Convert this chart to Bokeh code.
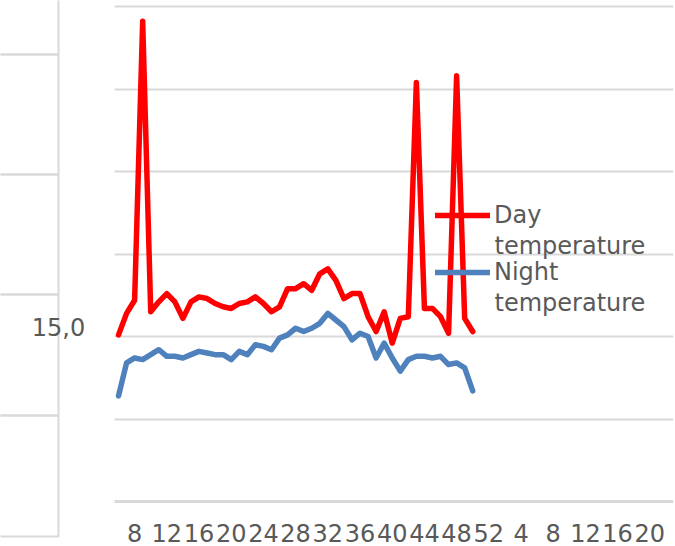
from bokeh.plotting import figure
from bokeh.models import (ColumnDataSource, Range1d, FixedTicker, Legend, LegendItem,
                          Label, BoxAnnotation)
from bokeh.embed import file_html
from bokeh.resources import INLINE

# ---- data ----
weeks = list(range(6, 51))
day_temp = [15.1, 16.4, 17.2, 34.1, 16.5, 17.1, 17.6, 17.1, 16.1, 17.1, 17.4,
            17.3, 17.0, 16.8, 16.7, 17.0, 17.1, 17.4, 17.0, 16.5, 16.8, 17.9, 17.9,
            18.2, 17.8, 18.8, 19.1, 18.4, 17.3, 17.6, 17.6, 16.2, 15.3, 16.5, 14.6,
            16.1, 16.2, 30.4, 16.7, 16.7, 16.2, 15.2, 30.8, 16.1, 15.3]
night_temp = [11.4, 13.4, 13.7, 13.6, 13.9, 14.2, 13.8, 13.8, 13.7, 13.9, 14.1,
              14.0, 13.9, 13.9, 13.6, 14.1, 13.9, 14.5, 14.4, 14.2, 14.9, 15.1, 15.5,
              15.3, 15.5, 15.8, 16.4, 16.0, 15.6, 14.8, 15.2, 15.0, 13.7, 14.6, 13.7,
              12.9, 13.6, 13.8, 13.8, 13.7, 13.8, 13.3, 13.4, 13.1, 11.7]
tick_positions = [8, 12, 16, 20, 24, 28, 32, 36, 40, 44, 48, 52, 56, 60, 64, 68, 72]
tick_labels = ["8", "12", "16", "20", "24", "28", "32", "36", "40", "44", "48", "52",
               "4", "8", "12", "16", "20"]
y_grid_values = [10, 15, 20, 25, 30, 35]
y_axis_min = 5
y_label_value = 15.0
series_names = ["Day", "Night"]

# ---- layout constants (pixels) ----
W, H = 675, 546
PL, PR, PB = 114, 673, 501          # main plot area edges (px)
X0, KX = 5.5, 8.05                  # data x at PL, px per week
KY = 16.5                           # px per degree


def dx(px):
    return X0 + (px - PL) / KX


def dy(py):
    return y_axis_min + (PB - py) / KY


TXT = "#595959"
GRID = "#D9D9D9"
FONT = "DejaVu Sans"

src = ColumnDataSource(dict(week=weeks, day=day_temp, night=night_temp))

p = figure(frame_width=PR, frame_height=H,
           x_range=Range1d(dx(0), dx(PR)), y_range=Range1d(dy(H), dy(0)),
           output_backend="svg", toolbar_location=None, tools="",
           min_border_left=0, min_border_right=W - PR,
           min_border_top=0, min_border_bottom=0)
p.styles = {"position": "absolute", "left": "0px", "top": "0px"}
p.outline_line_color = None
p.background_fill_color = "white"
p.border_fill_color = "white"
p.grid.visible = False

r_day = p.line("week", "day", source=src, line_color="#FF0000", line_width=5.5,
               line_join="round", line_cap="round")
r_night = p.line("week", "night", source=src, line_color="#4F81BD", line_width=5.5,
                 line_join="round", line_cap="round")

# value axis: its ticks span the plot area as horizontal gridlines
ya = p.yaxis[0]
ya.fixed_location = dx(PL)
ya.level = "underlay"
ya.ticker = FixedTicker(ticks=y_grid_values)
ya.axis_line_color = None
ya.major_tick_in = PR - PL
ya.major_tick_out = 0
ya.major_tick_line_color = GRID
ya.major_tick_line_width = 2
ya.minor_tick_line_color = None
ya.major_label_text_color = None

# category (week) axis
xa = p.xaxis[0]
xa.fixed_location = y_axis_min
xa.level = "underlay"
xa.bounds = (dx(PL), dx(PR))
xa.ticker = FixedTicker(ticks=tick_positions)
xa.major_label_overrides = {t: l for t, l in zip(tick_positions, tick_labels)}
xa.major_tick_line_color = None
xa.minor_tick_line_color = None
xa.axis_line_color = GRID
xa.axis_line_width = 3
xa.major_label_text_font = FONT
xa.major_label_text_font_size = "24px"
xa.major_label_text_color = TXT
xa.major_label_standoff = 16

# y value label
p.add_layout(Label(x=dx(58), y=dy(326), text=f"{y_label_value:.1f}".replace(".", ","),
                   text_align="center", text_baseline="middle",
                   text_font=FONT, text_font_size="24px", text_color=TXT))

# left panel fragment (decoration)
edges = [-5, 54, 174, 294, 415, 536]
for top, bot in zip(edges[:-1], edges[1:]):
    p.add_layout(BoxAnnotation(left=dx(-5), right=dx(58), top=dy(top), bottom=dy(bot),
                               fill_alpha=0, fill_color=None, level="underlay",
                               line_color=GRID, line_alpha=1, line_width=2))

# legend
legend = Legend(items=[LegendItem(label=series_names[0], renderers=[r_day]),
                       LegendItem(label=series_names[1], renderers=[r_night])],
                location=(435, H - 286), padding=0, margin=0, spacing=29,
                glyph_width=55, glyph_height=28, label_height=28, label_standoff=4,
                label_text_font=FONT, label_text_font_size="24px",
                label_text_color=TXT, border_line_color=None,
                background_fill_alpha=0)
p.add_layout(legend, "center")
for yy in (245, 302):
    p.add_layout(Label(x=dx(494), y=dy(yy), text="temperature", text_align="left",
                       text_baseline="middle", text_font=FONT,
                       text_font_size="24px", text_color=TXT))

open("out.html", "w").write(file_html(p, INLINE))
